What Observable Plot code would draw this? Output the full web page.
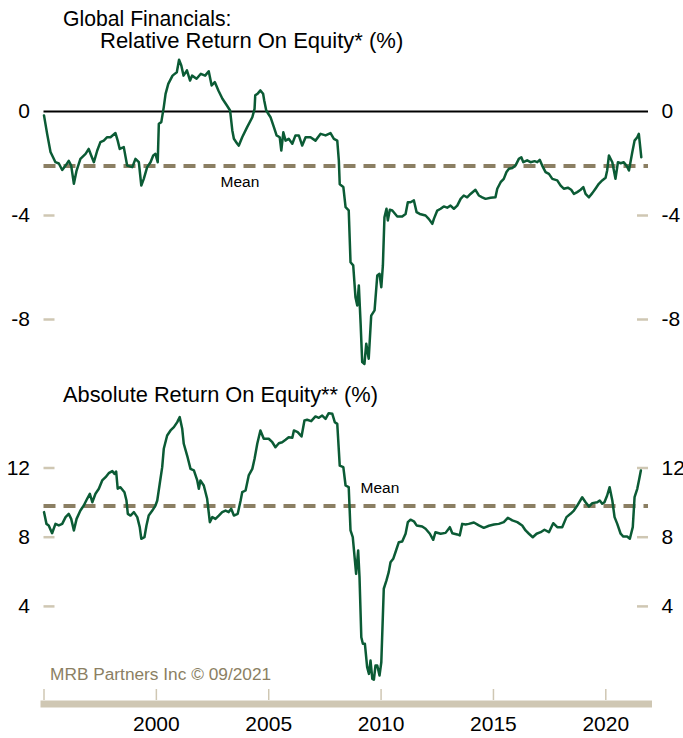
<!DOCTYPE html>
<html><head><meta charset="utf-8">
<script src="https://cdn.jsdelivr.net/npm/d3@7"></script>
<script src="https://cdn.jsdelivr.net/npm/@observablehq/plot@0.6"></script>
<style>
body{margin:0;background:#fff;}
#wrap{position:relative;width:683px;height:738px;overflow:hidden;font-family:"Liberation Sans",Arial,sans-serif;background:#fff;}
.t{position:absolute;white-space:nowrap;color:#000;font-size:21px;line-height:1;}
#top{position:absolute;left:0;top:0;}
#bot{position:absolute;left:0;top:380px;}
</style></head><body>
<div id="wrap">
 <div id="top"></div><div id="bot"></div>
 <div class="t" style="left:63px;top:8px;font-size:21.2px">Global Financials:</div>
 <div class="t" style="left:100px;top:30px;font-size:22px">Relative Return On Equity* (%)</div>
 <div class="t" style="left:63px;top:383.5px;font-size:21.8px">Absolute Return On Equity** (%)</div>
 <div class="t" style="left:50px;top:666px;font-size:17.3px;color:#8b7f63">MRB Partners Inc © 09/2021</div>
</div>
<script>
// ---- data ----
const relYears = [1995.00,1995.14,1995.29,1995.51,1995.66,1995.81,1995.96,1996.10,1996.21,1996.33,1996.45,1996.62,1996.85,1996.99,1997.10,1997.22,1997.37,1997.51,1997.66,1997.81,1997.96,1998.18,1998.28,1998.37,1998.55,1998.70,1998.93,1999.07,1999.22,1999.33,1999.44,1999.59,1999.74,1999.86,1999.96,2000.06,2000.11,2000.22,2000.33,2000.41,2000.53,2000.72,2000.91,2001.01,2001.11,2001.21,2001.36,2001.50,2001.59,2001.79,2001.98,2002.17,2002.33,2002.46,2002.60,2002.76,2002.94,2003.14,2003.28,2003.38,2003.45,2003.60,2003.67,2003.82,2004.04,2004.27,2004.37,2004.40,2004.50,2004.63,2004.75,2004.80,2004.89,2005.08,2005.23,2005.35,2005.49,2005.56,2005.65,2005.75,2005.89,2006.05,2006.19,2006.34,2006.49,2006.64,2006.86,2007.08,2007.31,2007.53,2007.75,2007.90,2008.05,2008.12,2008.16,2008.32,2008.42,2008.56,2008.64,2008.76,2008.86,2008.94,2009.01,2009.09,2009.16,2009.26,2009.34,2009.45,2009.56,2009.71,2009.83,2009.93,2010.01,2010.08,2010.15,2010.24,2010.30,2010.39,2010.50,2010.72,2010.94,2011.09,2011.19,2011.31,2011.46,2011.58,2011.72,2011.98,2012.12,2012.28,2012.35,2012.50,2012.65,2012.79,2012.94,2013.09,2013.24,2013.39,2013.54,2013.68,2013.83,2013.98,2014.20,2014.35,2014.50,2014.65,2014.87,2015.09,2015.17,2015.32,2015.46,2015.58,2015.69,2015.84,2015.98,2016.13,2016.24,2016.33,2016.50,2016.65,2016.83,2016.95,2017.06,2017.17,2017.32,2017.47,2017.62,2017.84,2017.99,2018.13,2018.31,2018.46,2018.58,2018.73,2018.88,2019.00,2019.10,2019.25,2019.40,2019.54,2019.69,2019.84,2019.99,2020.06,2020.14,2020.29,2020.36,2020.43,2020.54,2020.66,2020.80,2020.95,2021.03,2021.18,2021.28,2021.40,2021.47,2021.58];
const relValues = [-0.15,-0.86,-1.56,-1.95,-2.0,-2.25,-2.08,-1.9,-2.08,-2.78,-2.27,-1.82,-1.63,-1.44,-1.69,-1.95,-1.5,-1.18,-1.12,-0.99,-0.99,-0.83,-1.12,-1.44,-1.37,-2.08,-2.14,-1.82,-1.95,-2.85,-2.59,-2.14,-1.95,-1.69,-1.63,-1.95,-0.47,-0.41,0.17,0.68,1.06,1.38,1.51,1.99,1.77,1.38,1.58,1.19,1.38,1.26,1.45,1.38,1.55,1.0,1.13,0.81,0.49,0.23,0.04,-0.73,-1.05,-1.24,-1.31,-0.99,-0.6,-0.22,0.1,0.62,0.68,0.81,0.68,0.42,0.04,-0.22,-0.6,-0.92,-0.99,-1.5,-0.8,-1.12,-1.05,-1.24,-0.92,-0.92,-1.31,-0.99,-0.99,-1.12,-0.86,-0.92,-0.83,-1.05,-1.12,-1.88,-2.8,-2.9,-3.68,-3.8,-5.8,-5.92,-7.14,-7.46,-6.69,-8.17,-9.64,-9.71,-8.93,-9.51,-7.85,-7.65,-6.31,-6.24,-6.76,-5.92,-4.07,-3.74,-4.19,-3.78,-3.81,-4.04,-4.04,-3.94,-3.49,-3.49,-3.42,-3.87,-3.94,-4.0,-4.13,-4.32,-4.13,-3.81,-3.74,-3.65,-3.7,-3.62,-3.74,-3.62,-3.36,-3.23,-3.3,-3.17,-3.01,-3.23,-3.3,-3.36,-3.32,-3.3,-2.97,-2.72,-2.59,-2.33,-2.2,-2.17,-2.08,-1.82,-1.76,-1.95,-1.88,-1.95,-1.91,-1.95,-1.86,-2.08,-2.33,-2.4,-2.59,-2.65,-2.85,-2.97,-2.93,-3.01,-3.17,-3.1,-3.01,-2.91,-3.17,-3.3,-3.14,-2.97,-2.78,-2.65,-2.55,-2.27,-1.69,-1.95,-2.27,-2.59,-1.95,-1.99,-1.95,-2.12,-2.27,-1.56,-1.12,-0.99,-0.86,-1.76];

const absYears = [1995.00,1995.11,1995.21,1995.36,1995.51,1995.66,1995.81,1995.96,1996.10,1996.21,1996.33,1996.45,1996.62,1996.77,1996.92,1997.04,1997.15,1997.29,1997.44,1997.59,1997.74,1997.88,1998.04,1998.14,1998.21,1998.28,1998.40,1998.58,1998.67,1998.73,1998.85,1999.00,1999.15,1999.26,1999.33,1999.47,1999.56,1999.66,1999.82,1999.96,2000.04,2000.15,2000.26,2000.33,2000.48,2000.63,2000.78,2000.93,2001.04,2001.15,2001.22,2001.37,2001.52,2001.67,2001.82,2001.89,2001.96,2002.11,2002.26,2002.38,2002.49,2002.63,2002.78,2002.93,2003.08,2003.22,2003.33,2003.45,2003.62,2003.75,2003.82,2003.97,2004.11,2004.27,2004.37,2004.49,2004.63,2004.78,2005.00,2005.16,2005.30,2005.45,2005.60,2005.75,2005.89,2006.05,2006.12,2006.29,2006.46,2006.59,2006.71,2006.89,2007.08,2007.23,2007.38,2007.53,2007.67,2007.83,2007.94,2008.05,2008.16,2008.32,2008.42,2008.56,2008.64,2008.74,2008.89,2008.98,2009.04,2009.12,2009.19,2009.28,2009.38,2009.46,2009.53,2009.61,2009.68,2009.75,2009.83,2009.93,2010.01,2010.12,2010.24,2010.34,2010.42,2010.54,2010.64,2010.79,2010.94,2011.09,2011.19,2011.31,2011.46,2011.58,2011.83,2011.98,2012.17,2012.32,2012.42,2012.65,2012.87,2013.06,2013.17,2013.39,2013.50,2013.61,2013.76,2013.90,2014.13,2014.35,2014.57,2014.80,2015.02,2015.24,2015.46,2015.64,2015.84,2016.06,2016.28,2016.43,2016.58,2016.75,2016.92,2017.10,2017.27,2017.47,2017.66,2017.84,2018.06,2018.25,2018.43,2018.58,2018.73,2018.95,2019.10,2019.25,2019.40,2019.62,2019.73,2019.84,2019.94,2020.06,2020.17,2020.29,2020.39,2020.51,2020.66,2020.78,2020.95,2021.07,2021.20,2021.28,2021.40,2021.49,2021.56];
const absValues = [9.45,8.77,8.68,8.23,8.77,8.68,8.77,9.16,9.35,9.06,8.39,9.06,9.54,9.83,10.22,10.51,10.02,10.51,10.8,11.28,11.47,11.7,11.82,11.66,11.8,10.8,10.89,10.6,10.12,9.35,9.25,9.45,9.16,8.58,7.91,8.0,8.68,9.25,9.54,9.83,10.12,11.09,12.05,13.11,13.88,14.17,14.36,14.65,14.94,14.27,13.4,12.72,11.95,11.86,11.28,10.8,11.28,10.99,10.22,8.87,9.16,9.06,9.25,9.45,9.54,9.45,9.64,9.25,9.35,10.12,10.6,10.7,11.57,11.95,12.53,13.4,14.17,13.69,13.69,13.49,13.2,13.43,13.49,13.63,13.78,13.75,14.17,14.07,13.82,14.75,14.79,14.71,14.98,14.9,15.03,14.84,15.17,15.13,14.65,14.55,12.14,12.05,10.99,10.89,8.39,8.0,5.88,7.23,5.69,2.22,1.84,1.84,0.49,0.1,0.87,-0.19,-0.24,0.58,0.58,0.0,0.77,5.02,5.5,5.98,6.55,6.75,7.13,7.71,7.75,8.2,8.87,9.01,8.92,8.68,8.62,8.49,8.2,7.85,8.29,8.2,8.25,8.58,8.23,8.16,8.1,8.77,8.73,8.77,8.85,8.68,8.54,8.66,8.73,8.77,8.87,9.12,8.97,8.87,8.68,8.39,8.2,8.0,8.2,8.29,8.43,8.29,8.81,8.58,8.58,9.16,9.35,9.54,9.83,10.31,10.02,9.77,9.97,10.02,10.12,9.93,10.02,10.41,10.89,10.12,9.16,8.77,8.2,8.04,8.04,7.91,8.58,10.31,10.8,11.38,11.86];

const relMean = -2.1;
const absMean = 9.8;
const relTicks = [0, -4, -8];
const absTicks = [4, 8, 12];
const yearLabels = [2000, 2005, 2010, 2015, 2020];
const yearTickMarks = [1995, 2000, 2005, 2010, 2015, 2020];
const meanLabel = "Mean";

// ---- styles ----
const green = "#0b5b35", tan = "#8b7f63", light = "#cfc7b3";
const font = "'Liberation Sans', Arial, sans-serif";
const frameW = 683 - 43.5 - 35;
const tickLen = 11;

const rel = relYears.map((x, i) => ({x, y: relValues[i]}));
const abs = absYears.map((x, i) => ({x, y: absValues[i]}));

const common = {
  width: 683, marginLeft: 43.5, marginRight: 35,
  style: {fontFamily: font, background: "transparent", overflow: "visible"}
};

function yAxes(ticks) {
  return [
    Plot.tickY(ticks.filter(d => d !== 0), {y: d => d, stroke: light, strokeWidth: 2.5, insetRight: frameW - tickLen}),
    Plot.tickY(ticks.filter(d => d !== 0), {y: d => d, stroke: light, strokeWidth: 2.5, insetLeft: frameW - tickLen}),
    Plot.axisY(ticks, {anchor: "left", tickSize: 0, tickPadding: 14, fontSize: 21, fill: "#000", tickFormat: d => String(d), label: null}),
    Plot.axisY(ticks, {anchor: "right", tickSize: 0, tickPadding: 13, fontSize: 21, fill: "#000", tickFormat: d => String(d), label: null})
  ];
}

const topPlot = Plot.plot({
  ...common, height: 380, marginTop: 0, marginBottom: 0,
  x: {domain: [1995, 2021.9], axis: null},
  y: {domain: [-10.2, 2.4], range: [376.2, 48.6]},
  marks: [
    ...yAxes(relTicks),
    Plot.ruleY([0], {stroke: "#000", strokeWidth: 2}),
    Plot.ruleY([relMean], {stroke: tan, strokeWidth: 4, strokeDasharray: "12,8"}),
    Plot.line(rel, {x: "x", y: "y", stroke: green, strokeWidth: 2.5}),
    Plot.text([meanLabel], {x: 2003.72, y: relMean, dy: 15.5, text: d => d, fontSize: 15.5, fill: "#000"})
  ]
});

const botPlot = Plot.plot({
  ...common, height: 358, marginTop: 0, marginBottom: 34.5,
  x: {domain: [1995, 2021.9]},
  y: {domain: [-1, 16], range: [312.4, 18.3]},
  marks: [
    Plot.frame({anchor: "bottom", stroke: light, strokeWidth: 7}),
    Plot.ruleX(yearTickMarks, {x: d => d, stroke: light, strokeWidth: 1.5, insetTop: 309, insetBottom: 3.5}),
    ...yAxes(absTicks),
    Plot.ruleY([absMean], {stroke: tan, strokeWidth: 4, strokeDasharray: "12,8"}),
    Plot.line(abs, {x: "x", y: "y", stroke: green, strokeWidth: 2.5}),
    Plot.text([meanLabel], {x: 2009.95, y: absMean, dy: -18, text: d => d, fontSize: 15.5, fill: "#000"}),
    Plot.axisX(yearLabels, {anchor: "bottom", tickSize: 0, tickPadding: 12, fontSize: 21, fill: "#000", tickFormat: d => String(d), label: null})
  ]
});

document.getElementById("top").appendChild(topPlot);
document.getElementById("bot").appendChild(botPlot);
</script>
</body></html>
